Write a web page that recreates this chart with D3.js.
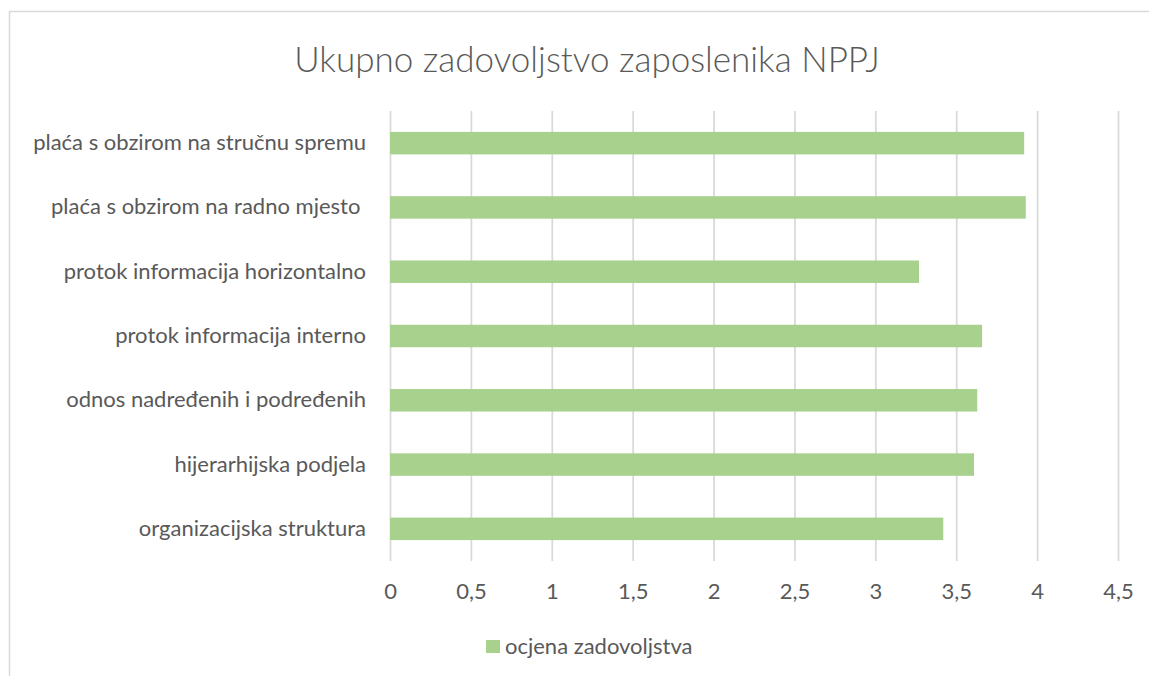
<!DOCTYPE html>
<html lang="hr">
  <head>
    <meta charset="UTF-8" />
    <title>Ukupno zadovoljstvo zaposlenika NPPJ</title>
    <style>
      body {
        margin: 0;
        background: #ffffff;
      }
      #chart {
        width: 1149px;
        height: 676px;
        overflow: hidden;
      }
      text {
        font-family: Lato, "Open Sans", sans-serif;
        fill: #595959;
      }
    </style>
  </head>
  <body>
    <div id="chart"></div>
    <script src="https://cdn.jsdelivr.net/npm/d3@7"></script>
    <script>
      // data
      var categories = [
        "plaća s obzirom na stručnu spremu",
        "plaća s obzirom na radno mjesto ",
        "protok informacija horizontalno",
        "protok informacija interno",
        "odnos nadređenih i podređenih",
        "hijerarhijska podjela",
        "organizacijska struktura"
      ];
      var values = [3.92, 3.93, 3.27, 3.66, 3.63, 3.61, 3.42];
      var tickValues = [0, 0.5, 1, 1.5, 2, 2.5, 3, 3.5, 4, 4.5];
      var seriesName = "ocjena zadovoljstva";
      var title = "Ukupno zadovoljstvo zaposlenika NPPJ";

      var width = 1149;
      var height = 676;
      var plot = { left: 390, right: 1118, top: 111, bottom: 561 };
      var fontSize = 22;

      var svg = d3
        .select("#chart")
        .append("svg")
        .attr("width", width)
        .attr("height", height);

      // outer chart border (runs off the right and bottom edge)
      svg
        .append("rect")
        .attr("x", 9.5)
        .attr("y", 11.5)
        .attr("width", 1200)
        .attr("height", 700)
        .attr("fill", "none")
        .attr("stroke", "#d9d9d9")
        .attr("stroke-width", 1.5);

      svg
        .append("text")
        .attr("x", 587)
        .attr("y", 72)
        .attr("text-anchor", "middle")
        .attr("font-size", 35)
        .attr("font-weight", 300)
        .text(title);

      var x = d3
        .scaleLinear()
        .domain([0, 4.5])
        .range([plot.left, plot.right]);

      var y = d3
        .scaleBand()
        .domain(categories)
        .range([plot.top, plot.bottom])
        .paddingInner(0.65)
        .paddingOuter(0.325);

      var hr = d3.formatLocale({
        decimal: ",",
        thousands: ".",
        grouping: [3],
        currency: ["", " €"]
      });

      // vertical gridlines + tick labels
      var xAxis = svg
        .append("g")
        .attr("transform", "translate(0," + plot.bottom + ")")
        .call(
          d3
            .axisBottom(x)
            .tickValues(tickValues)
            .tickSize(-(plot.bottom - plot.top))
            .tickPadding(22)
            .tickFormat(hr.format(".1~f"))
        );

      xAxis.select(".domain").remove();
      xAxis
        .selectAll(".tick line")
        .attr("stroke", "#d9d9d9")
        .attr("stroke-width", 1.75);
      xAxis
        .selectAll(".tick text")
        .attr("fill", "#595959")
        .attr("font-family", "Lato, 'Open Sans', sans-serif")
        .attr("font-size", fontSize);

      // bars
      svg
        .selectAll(".bar")
        .data(values)
        .enter()
        .append("rect")
        .attr("class", "bar")
        .attr("x", x(0))
        .attr("y", function (d, i) {
          return y(categories[i]);
        })
        .attr("width", function (d) {
          return x(d) - x(0);
        })
        .attr("height", y.bandwidth())
        .attr("fill", "#a9d18e");

      // category labels
      var yAxis = svg
        .append("g")
        .attr("transform", "translate(" + plot.left + ",0)")
        .call(d3.axisLeft(y).tickSize(0).tickPadding(24));

      yAxis.select(".domain").remove();
      yAxis
        .selectAll(".tick text")
        .attr("fill", "#595959")
        .attr("font-family", "Lato, 'Open Sans', sans-serif")
        .attr("font-size", fontSize)
        .style("white-space", "pre");

      // legend
      var legend = svg.append("g").attr("transform", "translate(486,640)");
      legend
        .append("rect")
        .attr("width", 14)
        .attr("height", 13)
        .attr("fill", "#a9d18e");
      legend
        .append("text")
        .attr("x", 19)
        .attr("y", 13.5)
        .attr("font-size", fontSize)
        .text(seriesName);
    </script>
  </body>
</html>
